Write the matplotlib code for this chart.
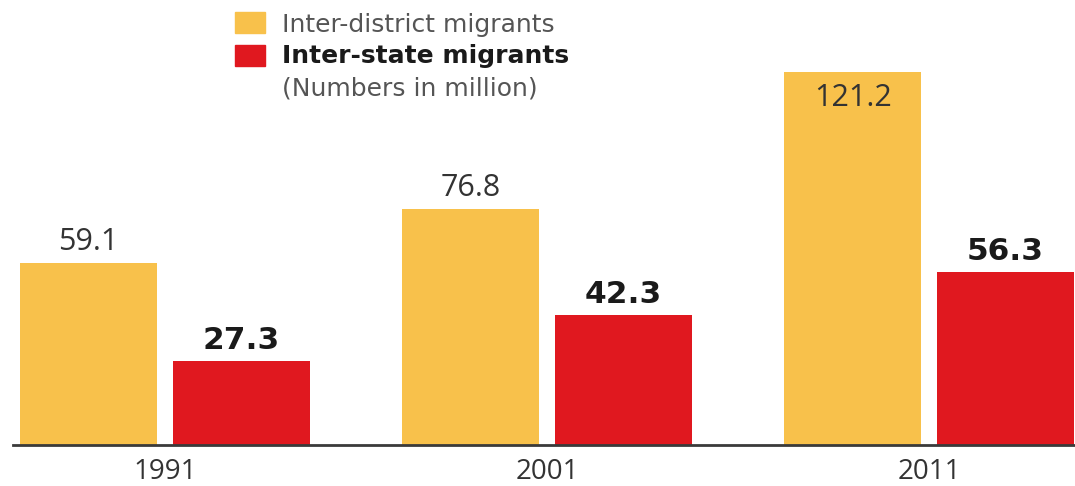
import numpy as np
import matplotlib.pyplot as plt

years = ['1991', '2001', '2011']
inter_district = [59.1, 76.8, 121.2]
inter_state = [27.3, 42.3, 56.3]

YELLOW = '#F8C14B'
RED = '#E0181F'
plt.rcParams['font.family'] = ['Open Sans', 'DejaVu Sans']

fig = plt.figure(figsize=(10.75, 4.86), dpi=100)
ax = fig.add_axes([0, 0, 1, 1])
ax.set_xlim(-0.432, 2.382)
ax.set_ylim(-13.3, 144.5)
ax.axis('off')

x = np.arange(len(years))
w = 0.36
b1 = ax.bar(x - 0.2, inter_district, w, color=YELLOW)
b2 = ax.bar(x + 0.2, inter_state, w, color=RED)

# baseline
ax.axhline(0, xmin=0.012, xmax=1, color='#3a3a3a', lw=2)

for rect, v in zip(b1, inter_district):
    cx = rect.get_x() + rect.get_width() / 2
    if v > 100:
        ax.annotate(f'{v:.1f}', (cx, v), xytext=(0, -8), textcoords='offset points',
                    ha='center', va='top', fontsize=22, color='#333333')
    else:
        ax.annotate(f'{v:.1f}', (cx, v), xytext=(0, 4), textcoords='offset points',
                    ha='center', va='bottom', fontsize=22, color='#333333')

for rect, v in zip(b2, inter_state):
    cx = rect.get_x() + rect.get_width() / 2
    ax.annotate(f'{v:.1f}', (cx, v), xytext=(0, 4), textcoords='offset points',
                ha='center', va='bottom', fontsize=22.5, fontweight='bold',
                family='DejaVu Sans', color='#1a1a1a')

for xi, yr in zip(x, years):
    ax.annotate(yr, (xi, 0), xytext=(0, -9), textcoords='offset points',
                ha='center', va='top', fontsize=20, color='#333333')

# legend block
fig.patches.append(plt.Rectangle((235 / 1075, 1 - 33 / 486), 30 / 1075, 21 / 486,
                                 transform=fig.transFigure, color=YELLOW))
fig.patches.append(plt.Rectangle((235 / 1075, 1 - 66 / 486), 30 / 1075, 21 / 486,
                                 transform=fig.transFigure, color=RED))
fig.text(282 / 1075, 1 - 32 / 486, 'Inter-district migrants', fontsize=18,
         family='DejaVu Sans', color='#555555', va='baseline')
fig.text(282 / 1075, 1 - 63 / 486, 'Inter-state migrants', fontsize=18,
         family='DejaVu Sans', fontweight='bold', color='#1a1a1a', va='baseline')
fig.text(282 / 1075, 1 - 95 / 486, '(Numbers in million)', fontsize=18,
         family='DejaVu Sans', color='#555555', va='baseline')

fig.savefig('out.png', dpi=100, facecolor='white')
